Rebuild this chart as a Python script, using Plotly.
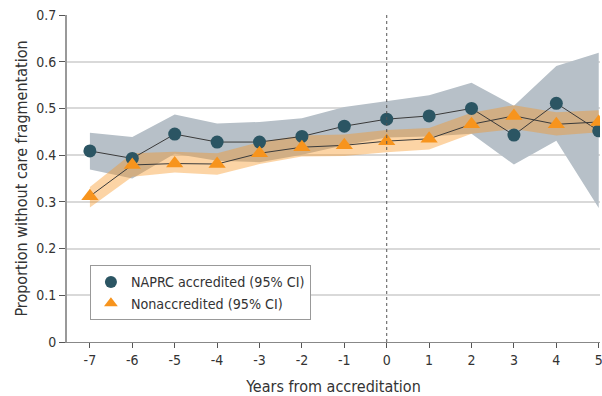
import plotly.graph_objects as go

years = [-7, -6, -5, -4, -3, -2, -1, 0, 1, 2, 3, 4, 5]

naprc = [0.409, 0.393, 0.445, 0.428, 0.428, 0.440, 0.462, 0.477, 0.484, 0.500, 0.443, 0.511, 0.452]
naprc_hi = [0.448, 0.439, 0.487, 0.468, 0.471, 0.479, 0.503, 0.516, 0.528, 0.555, 0.506, 0.591, 0.619]
naprc_lo = [0.369, 0.350, 0.403, 0.388, 0.385, 0.401, 0.421, 0.438, 0.440, 0.446, 0.380, 0.431, 0.287]

nonacc = [0.312, 0.379, 0.382, 0.381, 0.404, 0.417, 0.421, 0.430, 0.435, 0.466, 0.484, 0.466, 0.471]
nonacc_hi = [0.332, 0.404, 0.407, 0.404, 0.428, 0.442, 0.444, 0.454, 0.458, 0.491, 0.507, 0.492, 0.496]
nonacc_lo = [0.288, 0.354, 0.363, 0.358, 0.381, 0.397, 0.398, 0.406, 0.412, 0.446, 0.456, 0.442, 0.449]

y_ticks = [0, 0.1, 0.2, 0.3, 0.4, 0.5, 0.6, 0.7]
y_ticklabels = ["0", "0.1", "0.2", "0.3", "0.4", "0.5", "0.6", "0.7"]

TEAL = "#2b5563"
ORANGE = "#f7941d"
FONT = "DejaVu Sans Condensed"

fig = go.Figure()

# NAPRC CI band
fig.add_trace(go.Scatter(x=years, y=naprc_hi, mode="lines", line=dict(width=0),
                         showlegend=False, hoverinfo="skip"))
fig.add_trace(go.Scatter(x=years, y=naprc_lo, mode="lines", line=dict(width=0),
                         fill="tonexty", fillcolor="rgb(183,192,200)",
                         showlegend=False, hoverinfo="skip"))
# Nonaccredited CI band
fig.add_trace(go.Scatter(x=years, y=nonacc_hi, mode="lines", line=dict(width=0),
                         showlegend=False, hoverinfo="skip"))
fig.add_trace(go.Scatter(x=years, y=nonacc_lo, mode="lines", line=dict(width=0),
                         fill="tonexty", fillcolor="rgba(247,148,29,0.4)",
                         showlegend=False, hoverinfo="skip"))

# connecting lines
fig.add_trace(go.Scatter(x=years, y=naprc, mode="lines", line=dict(color="#3a3a3a", width=1),
                         showlegend=False, hoverinfo="skip"))
fig.add_trace(go.Scatter(x=years, y=nonacc, mode="lines", line=dict(color="#3a3a3a", width=1),
                         showlegend=False, hoverinfo="skip"))

# markers
fig.add_trace(go.Scatter(x=years, y=naprc, mode="markers", name="NAPRC accredited (95% CI)",
                         marker=dict(symbol="circle", size=13, color=TEAL)))
fig.add_trace(go.Scatter(x=years, y=nonacc, mode="markers", name="Nonaccredited (95% CI)",
                         marker=dict(symbol="triangle-up", size=15, color=ORANGE)))

fig.add_shape(type="line", x0=0, x1=0, y0=0, y1=1, xref="x", yref="paper",
              line=dict(color="#555555", width=1, dash="dot"))

fig.update_layout(
    width=602, height=396,
    margin=dict(l=67, r=2, t=15, b=54),
    plot_bgcolor="white", paper_bgcolor="white",
    font=dict(family=FONT, size=14, color="#333333"),
    legend=dict(x=0.043, y=0.235, xanchor="left", yanchor="top",
                bordercolor="#999999", borderwidth=1, bgcolor="white",
                font=dict(size=14.2, color="#333333"), itemsizing="constant",
                traceorder="normal", tracegroupgap=0, itemwidth=30),
    xaxis=dict(range=[-7.54, 5.03], tickmode="array", tickvals=years,
               ticktext=[str(v) for v in years], automargin=False,
               ticklabeloverflow="allow",
               showgrid=False, zeroline=False, showline=True, linecolor="#888888",
               linewidth=1, ticks="outside", ticklen=5, tickcolor="#555555",
               title=dict(text="Years from accreditation", font=dict(size=16), standoff=14)),
    yaxis=dict(range=[0, 0.7], tickmode="array", tickvals=y_ticks, ticktext=y_ticklabels,
               showgrid=True, gridcolor="#d9d9d9", gridwidth=1.5, zeroline=False,
               automargin=False, ticklabeloverflow="allow",
               showline=True, linecolor="#999999", linewidth=2, ticks="outside",
               ticklen=6, tickcolor="#555555",
               title=dict(text="Proportion without care fragmentation", font=dict(size=16), standoff=5)),
)

fig.write_html("out.html", config={"displayModeBar": False},
               post_script="document.body.style.margin='0';document.body.style.overflow='hidden';")
